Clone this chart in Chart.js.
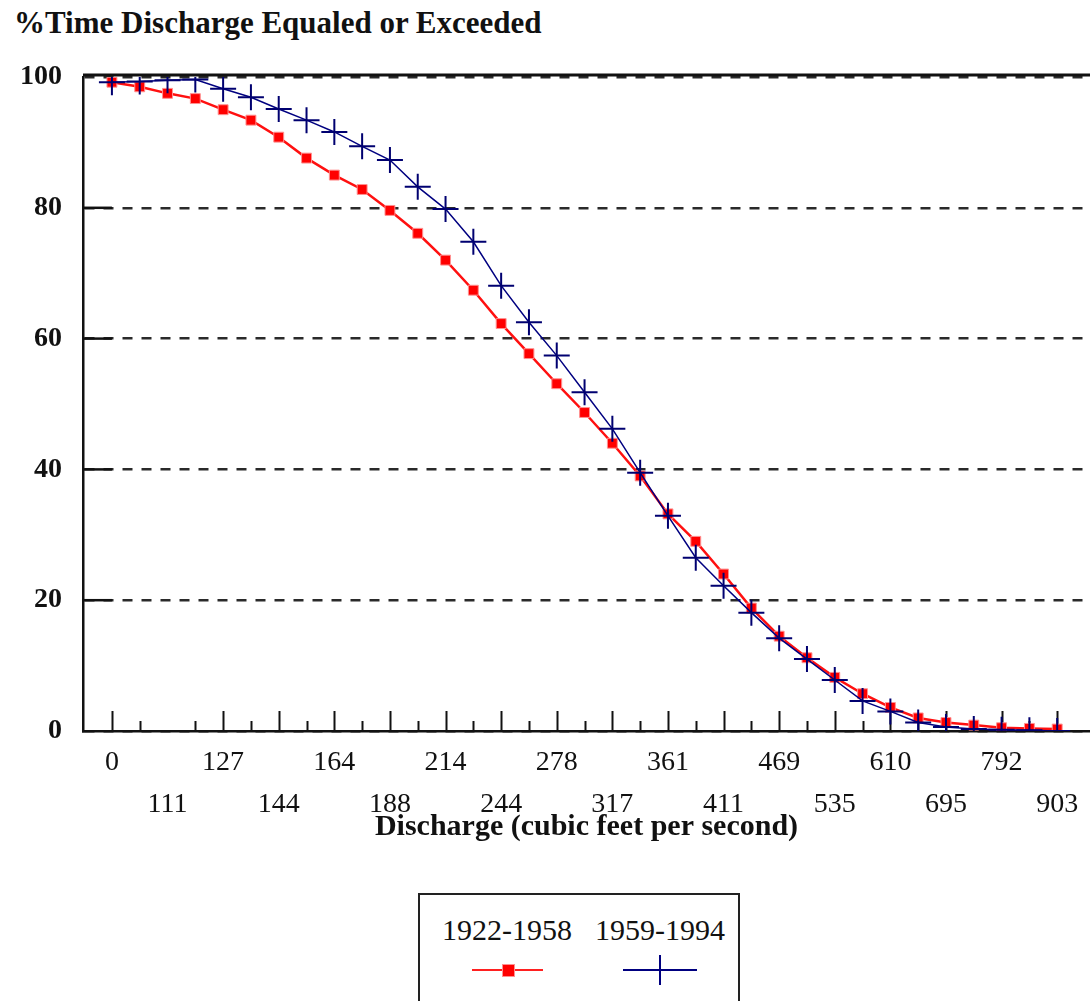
<!DOCTYPE html>
<html>
<head>
<meta charset="utf-8">
<script src="https://cdn.jsdelivr.net/npm/chart.js@4.4.1/dist/chart.umd.min.js"></script>
<style>
  html, body { margin:0; padding:0; background:#fff; width:1090px; height:1001px; overflow:hidden; }
  #wrap { position:absolute; left:0; top:0; width:1090px; height:860px; }
  #title { position:absolute; left:14px; top:5px; font:bold 31px "Liberation Serif","DejaVu Serif",serif; color:#111; white-space:nowrap; }
  #legend { position:absolute; left:418px; top:893px; width:318px; height:140px; border:2px solid #222; background:#fff; }
  .ltxt { position:absolute; top:18px; width:160px; text-align:center; font:30px "Liberation Serif","DejaVu Serif",serif; color:#111; }
  .lline { position:absolute; height:2px; }
</style>
</head>
<body>
<div id="title">%Time Discharge Equaled or Exceeded</div>
<div id="wrap"><canvas id="c" width="1090" height="860"></canvas></div>
<div id="legend">
  <div class="ltxt" style="left:7px">1922-1958</div>
  <div class="ltxt" style="left:160px">1959-1994</div>
  <div class="lline" style="left:52px;top:74px;width:71px;background:#ff2020"></div>
  <div style="position:absolute;left:82px;top:69px;width:11px;height:11px;background:#ff0000;border:1px solid #ff9090"></div>
  <div class="lline" style="left:203px;top:74px;width:74px;background:#000080"></div>
  <div style="position:absolute;left:239px;top:60px;width:2px;height:30px;background:#000080"></div>
</div>
<script>
// Tick labels (shown at every second data point, alternating rows)
const tickLabels = ['0','111','127','144','164','188','214','244','278','317','361','411','469','535','610','695','792','903'];

// % time discharge equaled or exceeded, one value per point
const period1922_1958 = [99.2, 98.5, 97.5, 96.7, 95.0, 93.4, 90.8, 87.6, 85.0, 82.8, 79.6, 76.1, 72.0, 67.4, 62.3, 57.7, 53.1, 48.7, 44.0, 39.0, 33.2, 29.0, 24.0, 18.8, 14.5, 11.2, 8.2, 5.7, 3.6, 2.0, 1.3, 0.9, 0.5, 0.4, 0.3];
const period1959_1994 = [99.2, 99.3, 99.5, 99.6, 98.2, 96.9, 95.1, 93.4, 91.6, 89.4, 87.3, 83.2, 79.8, 74.8, 68.1, 62.5, 57.4, 51.8, 46.2, 39.5, 32.9, 26.5, 22.2, 18.1, 14.2, 11.0, 7.8, 4.6, 3.0, 1.3, 0.6, 0.3, 0.2, 0.1, 0.0];

const seriesNames = ['1922-1958', '1959-1994'];
const yTicks = [0, 20, 40, 60, 80, 100];

const FONT = '"Liberation Serif","DejaVu Serif",serif';
const pointIdx = period1922_1958.map((_, i) => i);

const decor = {
  id: 'decor',
  beforeDatasetsDraw(chart) {
    const {ctx, chartArea, scales} = chart;
    const xs = scales.x, ys = scales.y;
    ctx.save();
    ctx.strokeStyle = '#111';
    // x tick marks (tall at labelled points, short in between)
    ctx.lineWidth = 2;
    pointIdx.forEach(i => {
      const len = i % 2 === 0 ? (i === 2 ? 0 : 20) : 10;
      if (!len) return;
      const x = Math.round(xs.getPixelForValue(i)) + 0.5;
      ctx.beginPath();
      ctx.moveTo(x, chartArea.bottom);
      ctx.lineTo(x, chartArea.bottom - len);
      ctx.stroke();
    });
    // solid stubs of gridlines next to the y axis
    ctx.lineWidth = 2.5;
    const x0 = xs.getPixelForValue(0);
    yTicks.filter(v => v > 0 && v < 100).forEach(v => {
      const y = ys.getPixelForValue(v);
      ctx.beginPath();
      ctx.moveTo(chartArea.left, y);
      ctx.lineTo(x0, y);
      ctx.stroke();
    });
    // solid top frame line
    ctx.lineWidth = 3;
    ctx.beginPath();
    ctx.moveTo(chartArea.left, chartArea.top - 2);
    ctx.lineTo(chartArea.right, chartArea.top - 2);
    ctx.stroke();
    ctx.restore();
  }
};

function zeroPad(s) { s.paddingLeft = 0; s.paddingRight = 0; s.paddingTop = 0; s.paddingBottom = 0; }

new Chart(document.getElementById('c'), {
  type: 'line',
  data: {
    datasets: [
      {
        label: seriesNames[0],
        data: period1922_1958.map((v, i) => ({x: i, y: v})),
        borderColor: '#ff1010',
        borderWidth: 2.5,
        pointStyle: 'rect',
        pointRadius: 7,
        pointBackgroundColor: '#ff0000',
        pointBorderColor: '#ff9090',
        pointBorderWidth: 1,
        tension: 0,
        order: 1
      },
      {
        label: seriesNames[1],
        data: period1959_1994.map((v, i) => ({x: i, y: v})),
        borderColor: '#000080',
        borderWidth: 1.5,
        pointStyle: 'cross',
        pointRadius: 13,
        pointBorderColor: '#000070',
        pointBorderWidth: 2,
        tension: 0,
        order: 0
      }
    ]
  },
  options: {
    responsive: false,
    devicePixelRatio: 1,
    animation: false,
    layout: { autoPadding: false, padding: { top: 77, left: 0, right: 0, bottom: 0 } },
    plugins: { legend: { display: false }, tooltip: { enabled: false } },
    scales: {
      x: {
        type: 'linear',
        min: -1.04,
        max: 35.18,
        afterBuildTicks(s) { s.ticks = pointIdx.map(v => ({value: v})); },
        afterFit(s) { s.height = 129; zeroPad(s); },
        grid: { display: false, drawTicks: false },
        border: { display: true, color: '#111', width: 2.5 },
        ticks: {
          autoSkip: false, maxRotation: 0, minRotation: 0, padding: 11,
          color: '#111',
          font: { family: FONT, size: 28, lineHeight: 1.5 },
          callback(value) {
            if (value % 2 !== 0) return '';
            const k = value / 2;
            const lab = tickLabels[k];
            return k % 2 === 0 ? [lab, ''] : ['', lab];
          }
        },
        title: {
          display: true,
          text: 'Discharge (cubic feet per second)',
          color: '#111',
          font: { family: FONT, size: 30, weight: 'bold' },
          padding: { top: 0, bottom: 15 }
        }
      },
      y: {
        min: 0, max: 100,
        afterBuildTicks(s) { s.ticks = yTicks.map(v => ({value: v})); },
        afterFit(s) { s.width = 83; zeroPad(s); },
        grid: { color: '#2a2a2a', lineWidth: 2.5, drawTicks: false },
        border: { display: true, color: '#111', width: 2.5, dash: [10, 9] },
        ticks: {
          padding: 21, color: '#111',
          font: { family: FONT, size: 28, weight: 'bold' }
        }
      }
    }
  },
  plugins: [decor]
});
</script>
</body>
</html>
